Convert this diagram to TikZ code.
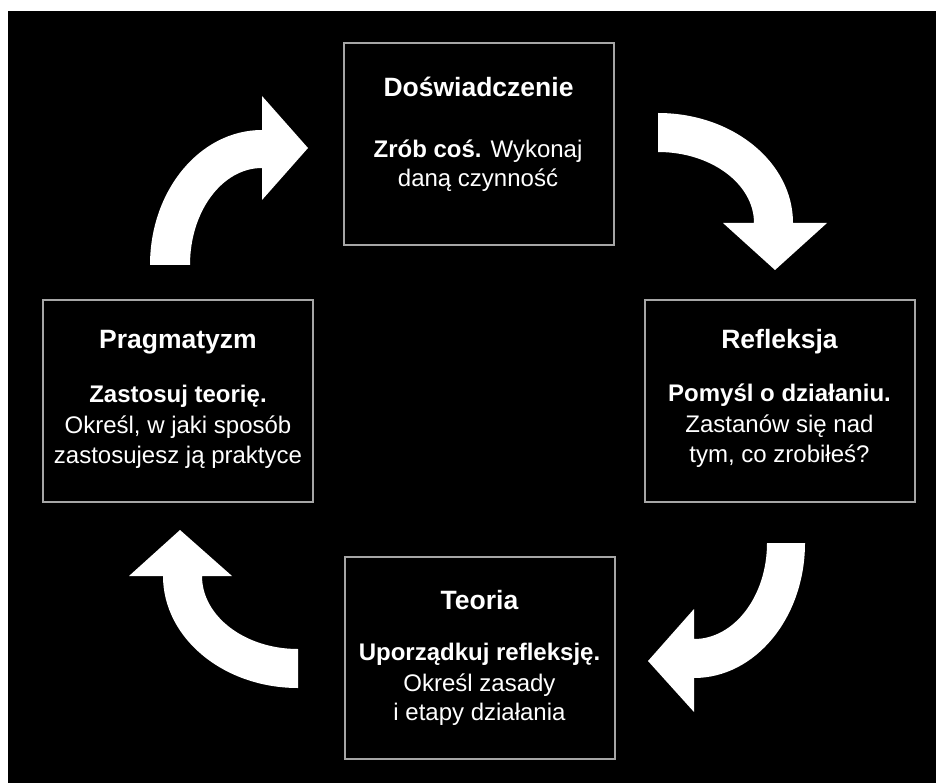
\documentclass[tikz,border=0pt]{standalone}
\usepackage{fontspec}
\setmainfont{Liberation Sans}
\definecolor{boxline}{HTML}{A6A6A6}
\tikzset{
  stagebox/.style={draw=boxline, line width=2pt, fill=black, minimum width=270pt, minimum height=202pt, inner sep=0pt},
  ttl/.style={text=white, anchor=base, inner sep=0pt, font=\fontsize{26.5}{30}\selectfont\bfseries},
  bodyline/.style={text=white, anchor=base, inner sep=0pt, font=\fontsize{24}{29}\selectfont},
  bigarrow/.style={fill=white, draw=none}
}
\begin{document}
\begin{tikzpicture}[x=1pt,y=-1pt]
\useasboundingbox (0,0) rectangle (936,783);
\fill[white] (0,0) rectangle (936,783);
\fill[black] (8,11) rectangle (936,783);

% boxes
\node[stagebox] (D) at (479,144) {};
\node[stagebox] (R) at (780,401) {};
\node[stagebox] (T) at (479.5,657.5) {};
\node[stagebox] (P) at (178,401) {};

% texts: Doswiadczenie
\node[ttl] (Dt) at (478.5,97) {Doświadczenie};
\node[bodyline] (D1) at (478,158) {\textbf{Zrób coś.} Wykonaj};
\node[bodyline] (D2) at (478,187) {daną czynność};

% Refleksja
\node[ttl] (Rt) at (779.5,348) {Refleksja};
\node[bodyline] (R1) at (779.5,401) {\textbf{Pomyśl o działaniu.}};
\node[bodyline] (R2) at (779.5,432) {Zastanów się nad};
\node[bodyline] (R3) at (779.5,462) {tym, co zrobiłeś?};

% Teoria
\node[ttl] (Tt) at (479.5,609) {Teoria};
\node[bodyline] (T1) at (479.5,660) {\textbf{Uporządkuj refleksję.}};
\node[bodyline] (T2) at (479.5,691) {Określ zasady};
\node[bodyline] (T3) at (479.5,720) {i etapy działania};

% Pragmatyzm
\node[ttl] (Pt) at (178,348) {Pragmatyzm};
\node[bodyline] (P1) at (178,402) {\textbf{Zastosuj teorię.}};
\node[bodyline] (P2) at (178,433) {Określ, w jaki sposób};
\node[bodyline] (P3) at (178,463) {zastosujesz ją praktyce};

% top-right arrow
\fill[bigarrow] (658,113) .. controls (732.6,113) and (793,162.2) .. (793,223)
  -- (827,223) -- (775,270) -- (723,223) -- (754,223)
  .. controls (754,183.8) and (711,152) .. (658,152) -- cycle;

% top-left arrow
\fill[bigarrow] (150,265) .. controls (150,190.4) and (200.1,130) .. (262,130)
  -- (262,96) -- (308,148) -- (262,200) -- (262,168)
  .. controls (222.2,168) and (190,211.4) .. (190,265) -- cycle;

% bottom-right arrow
\fill[bigarrow] (805,543) .. controls (805,617.6) and (755.3,678) .. (694,678)
  -- (694,712) -- (648,661) -- (694,609) -- (694,639)
  .. controls (734.3,639) and (767,596) .. (767,543) -- cycle;

% bottom-left arrow
\fill[bigarrow] (298,688) .. controls (223.4,688) and (163,637.9) .. (163,576)
  -- (129,576) -- (180,530) -- (232,576) -- (202,576)
  .. controls (202,616.3) and (245,649) .. (298,649) -- cycle;
\end{tikzpicture}
\end{document}
